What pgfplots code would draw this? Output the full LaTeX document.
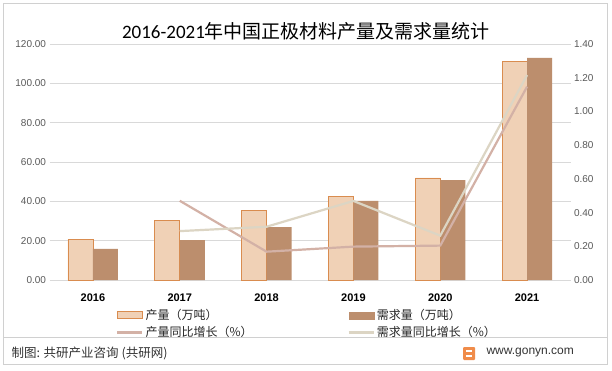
\documentclass[border=0pt]{standalone}
\usepackage{fontspec}
\setmainfont{Liberation Sans}
\newfontfamily\cjk{Noto Sans CJK SC}
\newfontfamily\carlito{Carlito}
\usepackage{pgfplots}
\pgfplotsset{compat=1.18}
\definecolor{prodfill}{HTML}{F0D1B6}
\definecolor{prodedge}{HTML}{D98C4F}
\definecolor{demandfill}{HTML}{BC8E6D}
\definecolor{prodline}{HTML}{D3B1A6}
\definecolor{demline}{HTML}{DCD5C4}
\definecolor{gridgray}{HTML}{D9D9D9}
\definecolor{ticktext}{HTML}{595959}
\definecolor{bordergray}{HTML}{D0D0D0}
\definecolor{logoorange}{HTML}{F08C4A}
\pgfplotsset{
  base/.style={
    at={(49.5pt,90pt)}, anchor=south west,
    scale only axis, width=521pt, height=236pt,
    xmin=-0.5, xmax=5.5,
    axis line style={draw=none},
    major tick style={draw=none},
    yticklabel style={font=\fontsize{10}{12}\selectfont, text=ticktext,
      /pgf/number format/.cd, fixed, fixed zerofill, precision=2, assume math mode=true},
  }
}
\begin{document}
\begin{tikzpicture}[x=1pt,y=1pt]
\path[fill=white] (0,0) rectangle (612,370);
\draw[bordergray, line width=0.8pt] (3,6) rectangle (607,367);
\node[font=\fontsize{19}{22}\selectfont] at (306,339) {{\carlito 2016-2021}{\cjk 年中国正极材料产量及需求量统计}};

\begin{axis}[base,
  ymin=0, ymax=120, ytick={0,20,...,120},
  axis y line*=left, axis x line*=bottom,
  ybar=0pt, bar width=25pt,
  ymajorgrids, grid style={gridgray, line width=0.8pt},
  xtick={0,1,2,3,4,5},
  xticklabels={2016,2017,2018,2019,2020,2021},
  xticklabel style={font=\bfseries\fontsize{11}{13}\selectfont, yshift=-6pt},
]
\addplot[fill=prodfill, draw=prodedge, line width=0.8pt] coordinates {(0,20.7) (1,30.3) (2,35.4) (3,42.5) (4,51.9) (5,111.2)};
\addplot[fill=demandfill, draw=none] coordinates {(0,15.8) (1,20.3) (2,26.9) (3,40.2) (4,50.8) (5,112.9)};
\end{axis}

\begin{axis}[base,
  ymin=0, ymax=1.4, ytick={0,0.2,...,1.4},
  axis y line*=right, axis x line=none,
  legend columns=2,
  legend cell align=left,
  legend style={at={(0.128,-0.115)}, anchor=north west, draw=none, fill=none,
    font=\cjk\fontsize{12}{14}\selectfont, text=black!85,
    /tikz/every even column/.append style={column sep=93pt},
    row sep=1.5pt, inner sep=0pt},
  legend image code/.code={\draw[#1] (0pt,0pt) -- (25pt,0pt);},
]
\addlegendimage{legend image code/.code={\draw[fill=prodfill, draw=prodedge, line width=0.8pt] (0pt,-3.5pt) rectangle (25pt,3.5pt);}}
\addlegendentry{产量（万吨）}
\addlegendimage{legend image code/.code={\fill[demandfill] (0pt,-3.5pt) rectangle (25pt,3.5pt);}}
\addlegendentry{需求量（万吨）}
\addplot[prodline, line width=2.2pt] coordinates {(1,0.47) (2,0.168) (3,0.198) (4,0.204) (5,1.147)};
\addlegendentry{产量同比增长（\%）}
\addplot[demline, line width=2.2pt] coordinates {(1,0.29) (2,0.316) (3,0.469) (4,0.263) (5,1.216)};
\addlegendentry{需求量同比增长（\%）}
\end{axis}

\draw[bordergray, line width=0.8pt] (3,33) -- (607,33);
\node[anchor=west, font=\cjk\fontsize{12.5}{14}\selectfont, text=black!80] at (8,17) {制图: 共研产业咨询 (共研网)};
\fill[logoorange, rounded corners=1pt] (463,10) rectangle (475,23);
\fill[white] (466,13) rectangle (472,15.5);
\fill[white] (466,18) rectangle (472,20.5);
\node[anchor=west, font=\fontsize{12}{14}\selectfont, text=black!80] at (483,17) {www.gonyn.com};
\end{tikzpicture}
\end{document}
